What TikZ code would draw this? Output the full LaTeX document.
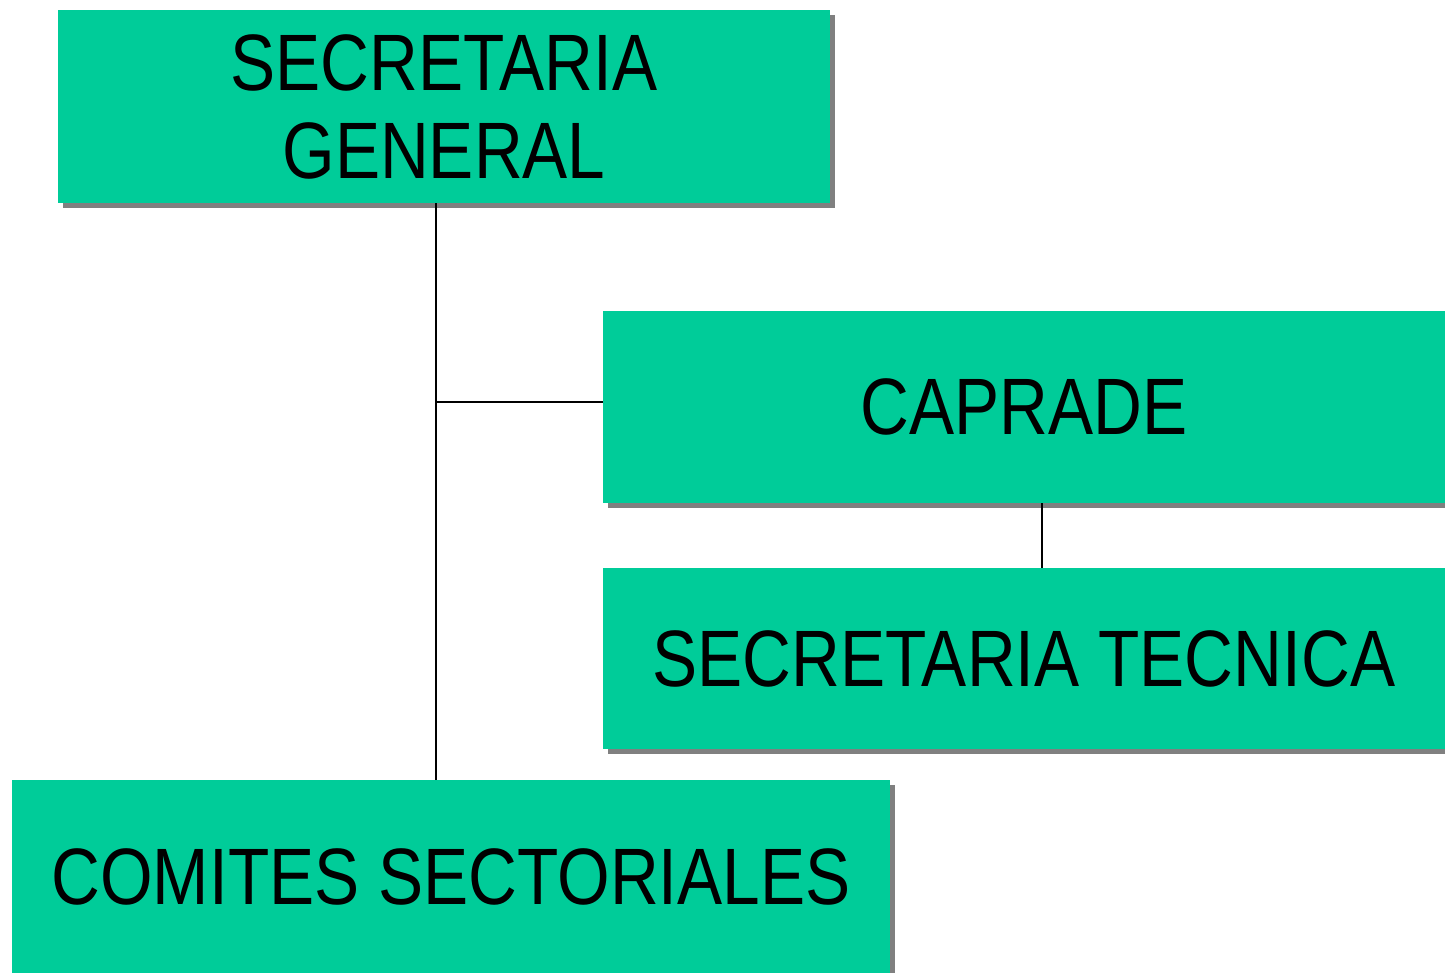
\documentclass[tikz,border=0pt]{standalone}
\usepackage{fontspec}
\newfontfamily\boxfont[FakeStretch=0.845]{Liberation Sans}
\usetikzlibrary{shadows}
\definecolor{boxgreen}{HTML}{00CC99}

\tikzset{
  orgbox/.style={fill=boxgreen, inner sep=0pt, align=center,
    font=\boxfont\fontsize{80}{88}\selectfont,
    drop shadow={shadow xshift=5pt, shadow yshift=-5pt, fill=gray, opacity=1}},
  link/.style={line width=1.5pt}
}

\begin{document}
\begin{tikzpicture}[x=1pt,y=-1pt]
    \useasboundingbox (0,0) rectangle (1445,973);

    \node[orgbox, minimum width=772pt, minimum height=193pt] (sg) at (444,106.5) {SECRETARIA\\GENERAL};
    \node[orgbox, minimum width=842pt, minimum height=192pt] (cap) at (1024,407) {CAPRADE};
    \node[orgbox, minimum width=842pt, minimum height=181pt] (st) at (1024,658.5) {SECRETARIA TECNICA};
    \node[orgbox, minimum width=878pt, minimum height=193pt] (cs) at (451,876.5) {COMITES SECTORIALES};

    % trunk and branches
    \coordinate (top) at ([xshift=-8pt]sg.south);
    \coordinate (capin) at ([yshift=5pt]cap.west);
    \draw[link] (top) -- (top |- cs.north);
    \draw[link] (top |- capin) -- (capin);
    \draw[link] ([xshift=18pt]cap.south) -- ([xshift=18pt]st.north);
\end{tikzpicture}
\end{document}
